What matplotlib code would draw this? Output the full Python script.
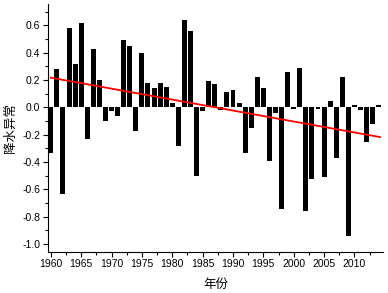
import matplotlib
matplotlib.use("Agg")
import matplotlib.pyplot as plt
import numpy as np
from matplotlib.ticker import MultipleLocator

years = list(range(1960, 2015))
anomaly = [
    -0.33, 0.28, -0.63, 0.58, 0.32, 0.62, -0.23, 0.43, 0.20, -0.10,
    -0.03, -0.06, 0.49, 0.45, -0.17, 0.40, 0.18, 0.14, 0.18, 0.15,
    0.03, -0.28, 0.64, 0.56, -0.50, -0.03, 0.19, 0.17, -0.02, 0.11,
    0.13, 0.03, -0.33, -0.15, 0.22, 0.14, -0.39, -0.04, -0.74, 0.26,
    -0.015, 0.29, -0.76, -0.52, -0.015, -0.51, 0.05, -0.37, 0.22, -0.94,
    0.02, -0.02, -0.25, -0.12, 0.02,
]
trend_years = [1960, 2014.2]
trend_values = [0.217, -0.217]

plt.rcParams['font.family'] = ['Liberation Sans', 'Noto Sans CJK SC']

fig = plt.figure(figsize=(3.88, 2.93), dpi=100)
ax = fig.add_axes([0.124, 0.141, 0.863, 0.845])

ax.bar(years, anomaly, width=0.82, color='black')
ax.plot(trend_years, trend_values, color='red', linewidth=1.3)

ax.set_xlim(1959.55, 2014.7)
ax.set_ylim(-1.055, 0.755)
ax.xaxis.set_major_locator(MultipleLocator(5))
ax.xaxis.set_minor_locator(MultipleLocator(2.5))
ax.yaxis.set_major_locator(MultipleLocator(0.2))
ax.yaxis.set_minor_locator(MultipleLocator(0.1))
ax.yaxis.set_major_formatter(plt.FuncFormatter(lambda v, p: f"{v:.1f}"))
ax.tick_params(which='major', length=3.5, width=0.8, labelsize=7.5, pad=2)
ax.tick_params(which='minor', length=2, width=0.8)

ax.spines['top'].set_visible(False)
ax.spines['right'].set_visible(False)

ax.set_xlabel("年份", family=['Noto Sans CJK SC'], fontsize=9, labelpad=6)
ax.set_ylabel("降水异常", family=['Noto Sans CJK SC'], fontsize=9, labelpad=4)

fig.savefig("out.png", dpi=100)
